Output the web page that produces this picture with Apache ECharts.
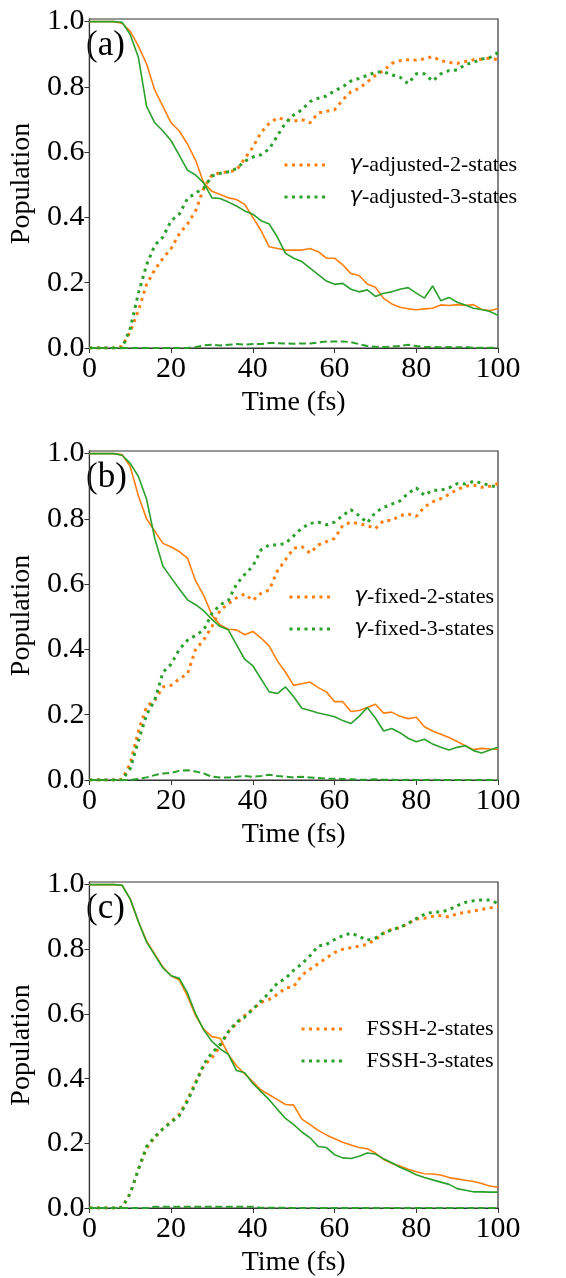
<!DOCTYPE html>
<html>
<head>
<meta charset="utf-8">
<script src="https://cdn.jsdelivr.net/npm/echarts@6/dist/echarts.min.js"></script>
<style>
html,body{margin:0;padding:0;background:#fff}
#chart{width:566px;height:1278px}
</style>
</head>
<body>
<div id="chart"></div>
<script>
// time axis (fs), one value every 2 fs
var time = [0,2,4,6,8,10,12,14,16,18,20,22,24,26,28,30,32,34,36,38,40,42,44,46,48,50,52,54,56,58,60,62,64,66,68,70,72,74,76,78,80,82,84,86,88,90,92,94,96,98,100];
var yTicks = [0, 0.2, 0.4, 0.6, 0.8, 1.0];

// (a) gamma-adjusted
var aOrangeS1 = [1,1,1,1,0.995,0.97,0.925,0.87,0.79,0.74,0.69,0.665,0.625,0.575,0.505,0.48,0.47,0.46,0.455,0.44,0.40,0.36,0.31,0.305,0.30,0.30,0.30,0.305,0.295,0.275,0.275,0.255,0.228,0.222,0.196,0.186,0.152,0.135,0.125,0.12,0.117,0.12,0.122,0.132,0.13,0.133,0.13,0.133,0.118,0.115,0.12];
var aOrangeS0 = [0,0,0,0,0.005,0.05,0.115,0.195,0.24,0.275,0.305,0.35,0.38,0.42,0.49,0.53,0.537,0.54,0.545,0.58,0.615,0.66,0.688,0.705,0.70,0.695,0.70,0.69,0.72,0.725,0.73,0.76,0.785,0.795,0.815,0.835,0.85,0.872,0.88,0.883,0.882,0.886,0.893,0.88,0.875,0.872,0.878,0.883,0.885,0.888,0.883];
var aGreenS1 = [1,1,1,1,0.998,0.96,0.89,0.74,0.69,0.665,0.635,0.59,0.545,0.53,0.505,0.46,0.458,0.447,0.435,0.42,0.41,0.39,0.38,0.34,0.29,0.275,0.265,0.245,0.225,0.205,0.195,0.198,0.18,0.172,0.178,0.158,0.168,0.172,0.18,0.185,0.168,0.153,0.19,0.145,0.155,0.14,0.132,0.122,0.118,0.112,0.10];
var aGreenS0 = [0,0,0,0,0,0.06,0.168,0.255,0.315,0.34,0.39,0.41,0.458,0.475,0.49,0.527,0.535,0.54,0.55,0.572,0.585,0.592,0.61,0.65,0.69,0.714,0.73,0.755,0.765,0.772,0.788,0.80,0.818,0.826,0.835,0.845,0.846,0.837,0.83,0.81,0.84,0.84,0.818,0.84,0.85,0.852,0.868,0.875,0.885,0.89,0.905];
var aGreenS2 = [0,0,0,0,0,0,0,0,0,0,0,0,0,0.003,0.008,0.01,0.008,0.01,0.012,0.01,0.012,0.012,0.015,0.015,0.014,0.013,0.014,0.014,0.017,0.02,0.02,0.02,0.018,0.012,0.006,0.004,0.003,0.004,0.006,0.01,0.006,0.003,0.003,0.002,0.003,0.002,0.003,0.001,0.001,0.001,0.001];

// (b) gamma-fixed
var bOrangeS1 = [1,1,1,1,0.997,0.96,0.87,0.80,0.762,0.725,0.714,0.70,0.68,0.61,0.565,0.505,0.475,0.462,0.46,0.445,0.455,0.435,0.41,0.365,0.33,0.29,0.295,0.30,0.283,0.27,0.24,0.24,0.21,0.213,0.222,0.232,0.205,0.208,0.195,0.188,0.192,0.163,0.15,0.14,0.13,0.118,0.105,0.093,0.097,0.095,0.094];
var bOrangeS0 = [0,0,0,0,0.002,0.05,0.15,0.225,0.245,0.285,0.29,0.31,0.325,0.40,0.43,0.47,0.52,0.54,0.558,0.57,0.55,0.572,0.582,0.64,0.675,0.71,0.715,0.695,0.72,0.73,0.74,0.78,0.79,0.785,0.78,0.77,0.795,0.795,0.81,0.815,0.808,0.837,0.852,0.862,0.875,0.89,0.90,0.904,0.897,0.90,0.908];
var bGreenS1 = [1,1,1,1,0.995,0.97,0.93,0.86,0.74,0.655,0.62,0.585,0.552,0.537,0.518,0.492,0.47,0.46,0.415,0.37,0.35,0.31,0.27,0.265,0.285,0.255,0.22,0.213,0.205,0.20,0.194,0.182,0.173,0.195,0.222,0.19,0.15,0.158,0.145,0.128,0.117,0.125,0.11,0.10,0.092,0.10,0.105,0.09,0.083,0.092,0.10];
var bGreenS0 = [0,0,0,0,0,0.035,0.12,0.20,0.245,0.33,0.355,0.40,0.428,0.443,0.46,0.51,0.537,0.55,0.60,0.63,0.655,0.705,0.72,0.72,0.725,0.748,0.772,0.786,0.79,0.782,0.79,0.81,0.828,0.81,0.788,0.82,0.835,0.845,0.855,0.878,0.895,0.872,0.888,0.888,0.895,0.908,0.907,0.915,0.91,0.902,0.898];
var bGreenS2 = [0,0,0,0,0,0,0.003,0.008,0.015,0.02,0.022,0.028,0.03,0.026,0.02,0.01,0.008,0.008,0.01,0.012,0.01,0.012,0.016,0.012,0.01,0.008,0.01,0.008,0.006,0.004,0.004,0.003,0.002,0.001,0.001,0.002,0.001,0.001,0,0.001,0,0,0.001,0,0,0,0,0,0,0,0];

// (c) FSSH
var cOrangeS1 = [1,1,1,1,0.998,0.955,0.885,0.825,0.785,0.745,0.718,0.705,0.655,0.595,0.552,0.53,0.525,0.475,0.44,0.415,0.39,0.365,0.35,0.335,0.32,0.318,0.275,0.258,0.24,0.226,0.214,0.203,0.195,0.187,0.183,0.17,0.15,0.138,0.13,0.12,0.112,0.106,0.105,0.102,0.094,0.09,0.086,0.082,0.076,0.068,0.064];
var cOrangeS0 = [0,0,0,0,0.002,0.045,0.12,0.185,0.218,0.245,0.268,0.29,0.335,0.39,0.44,0.465,0.50,0.545,0.57,0.595,0.615,0.636,0.645,0.66,0.68,0.685,0.72,0.738,0.756,0.773,0.79,0.80,0.805,0.81,0.815,0.83,0.85,0.862,0.866,0.88,0.893,0.896,0.902,0.904,0.90,0.91,0.914,0.918,0.923,0.928,0.932];
var cGreenS1 = [1,1,1,1,0.998,0.955,0.885,0.822,0.782,0.742,0.718,0.71,0.665,0.60,0.55,0.515,0.492,0.475,0.425,0.418,0.385,0.36,0.335,0.305,0.277,0.258,0.235,0.217,0.19,0.187,0.165,0.155,0.153,0.16,0.17,0.167,0.152,0.14,0.126,0.115,0.103,0.094,0.087,0.08,0.073,0.06,0.055,0.05,0.05,0.049,0.049];
var cGreenS0 = [0,0,0,0,0.002,0.045,0.12,0.19,0.22,0.245,0.265,0.285,0.33,0.385,0.445,0.48,0.505,0.545,0.575,0.59,0.615,0.64,0.665,0.695,0.71,0.735,0.755,0.78,0.81,0.815,0.83,0.842,0.85,0.84,0.828,0.835,0.85,0.86,0.868,0.88,0.895,0.908,0.915,0.915,0.922,0.935,0.945,0.95,0.952,0.952,0.942];
var cGreenS2 = [0,0,0,0,0,0,0,0,0.004,0.004,0.004,0.004,0.004,0.004,0.004,0.004,0.004,0.004,0.004,0.004,0.004,0.001,0.001,0.001,0.001,0,0,0,0,0,0,0,0,0,0,0,0,0,0,0,0,0,0,0,0,0,0,0,0,0,0];

var legendA = ['γ-adjusted-2-states', 'γ-adjusted-3-states'];
var legendB = ['γ-fixed-2-states', 'γ-fixed-3-states'];
var legendC = ['FSSH-2-states', 'FSSH-3-states'];

var ORANGE = '#ff7f0e';
var GREEN = '#2ca02c';
var SERIF = "'Liberation Serif', 'Times New Roman', serif";

function pairs(vals) {
    return time.map(function (t, i) { return [t, vals[i]]; });
}

var gridTops = [19, 451, 882];
var grids = [], xAxes = [], yAxes = [], series = [], legends = [], labels = [];

function addPanel(k, tag, names, o1, o0, g1, g0, g2, legendLeft, legendTop) {
    grids.push({
        left: 83, width: 415, top: gridTops[k], height: 329,
        show: true, borderColor: '#333', borderWidth: 1.2
    });
    xAxes.push({
        gridIndex: k, type: 'value', min: 0, max: 100, interval: 20,
        name: 'Time (fs)', nameLocation: 'middle', nameGap: 41,
        nameTextStyle: { fontFamily: SERIF, fontSize: 28, color: '#000' },
        axisLine: { show: true, lineStyle: { color: '#333', width: 1.2 } },
        axisTick: { show: true, length: 5, lineStyle: { color: '#333' } },
        axisLabel: { fontFamily: SERIF, fontSize: 30, color: '#000', margin: 6 },
        splitLine: { show: false }
    });
    yAxes.push({
        gridIndex: k, type: 'value', min: 0, max: 1.008,
        name: 'Population', nameLocation: 'middle', nameGap: 47,
        nameTextStyle: { fontFamily: SERIF, fontSize: 28, color: '#000' },
        axisLine: { show: true, lineStyle: { color: '#333', width: 1.2 } },
        axisTick: { show: true, length: 5, customValues: yTicks, lineStyle: { color: '#333' } },
        axisLabel: {
            fontFamily: SERIF, fontSize: 30, color: '#000', margin: 5,
            customValues: yTicks,
            formatter: function (v) { return v.toFixed(1); }
        },
        splitLine: { show: false }
    });
    var dotted = [3, 4.5];
    series.push(
        { name: tag + '-o1', type: 'line', xAxisIndex: k, yAxisIndex: k, data: pairs(o1), symbol: 'none',
          lineStyle: { color: ORANGE, width: 1.6 }, itemStyle: { color: ORANGE } },
        { name: tag + '-g1', type: 'line', xAxisIndex: k, yAxisIndex: k, data: pairs(g1), symbol: 'none',
          lineStyle: { color: GREEN, width: 1.6 }, itemStyle: { color: GREEN } },
        { name: names[0], type: 'line', xAxisIndex: k, yAxisIndex: k, data: pairs(o0), symbol: 'none',
          lineStyle: { color: ORANGE, width: 3, type: dotted }, itemStyle: { color: ORANGE } },
        { name: names[1], type: 'line', xAxisIndex: k, yAxisIndex: k, data: pairs(g0), symbol: 'none',
          lineStyle: { color: GREEN, width: 3, type: dotted }, itemStyle: { color: GREEN } },
        { name: tag + '-g2', type: 'line', xAxisIndex: k, yAxisIndex: k, data: pairs(g2), symbol: 'none',
          lineStyle: { color: GREEN, width: 2, type: [7, 3.5] }, itemStyle: { color: GREEN } }
    );
    legends.push({
        data: names, orient: 'vertical', left: legendLeft, top: legendTop,
        padding: 0, itemGap: 8, itemWidth: 42, itemHeight: 14,
        selectedMode: false,
        // hide the symbol, keep only the dotted line
        itemStyle: { color: 'rgba(0,0,0,0)', borderColor: 'rgba(0,0,0,0)', borderWidth: 0, opacity: 0 },
        lineStyle: { width: 3, type: [3, 4.5] },
        formatter: function (n) {
            if (n.charAt(0) === 'γ') return '{sp|}{g|γ}{t|' + n.slice(1) + '}';
            return '{sp|}{t|' + n + '}';
        },
        textStyle: {
            fontFamily: SERIF, fontSize: 22, color: '#000', lineHeight: 24,
            rich: {
                sp: { width: 18 },
                g: { fontFamily: 'DejaVu Sans', fontStyle: 'italic', fontSize: 21, color: '#000' },
                t: { fontFamily: SERIF, fontSize: 22, color: '#000' }
            }
        }
    });
    labels.push({
        type: 'text', left: 86, top: gridTops[k] + 9,
        style: { text: '(' + tag + ')', fontFamily: SERIF, fontSize: 35, fill: '#000' }
    });
}

addPanel(0, 'a', legendA, aOrangeS1, aOrangeS0, aGreenS1, aGreenS0, aGreenS2, 283, 153);
addPanel(1, 'b', legendB, bOrangeS1, bOrangeS0, bGreenS1, bGreenS0, bGreenS2, 288, 585);
addPanel(2, 'c', legendC, cOrangeS1, cOrangeS0, cGreenS1, cGreenS0, cGreenS2, 300, 1017);

var myChart = echarts.init(document.getElementById('chart'));
myChart.setOption({
    animation: false,
    backgroundColor: '#fff',
    grid: grids,
    xAxis: xAxes,
    yAxis: yAxes,
    legend: legends,
    series: series,
    graphic: labels
});
</script>
</body>
</html>
